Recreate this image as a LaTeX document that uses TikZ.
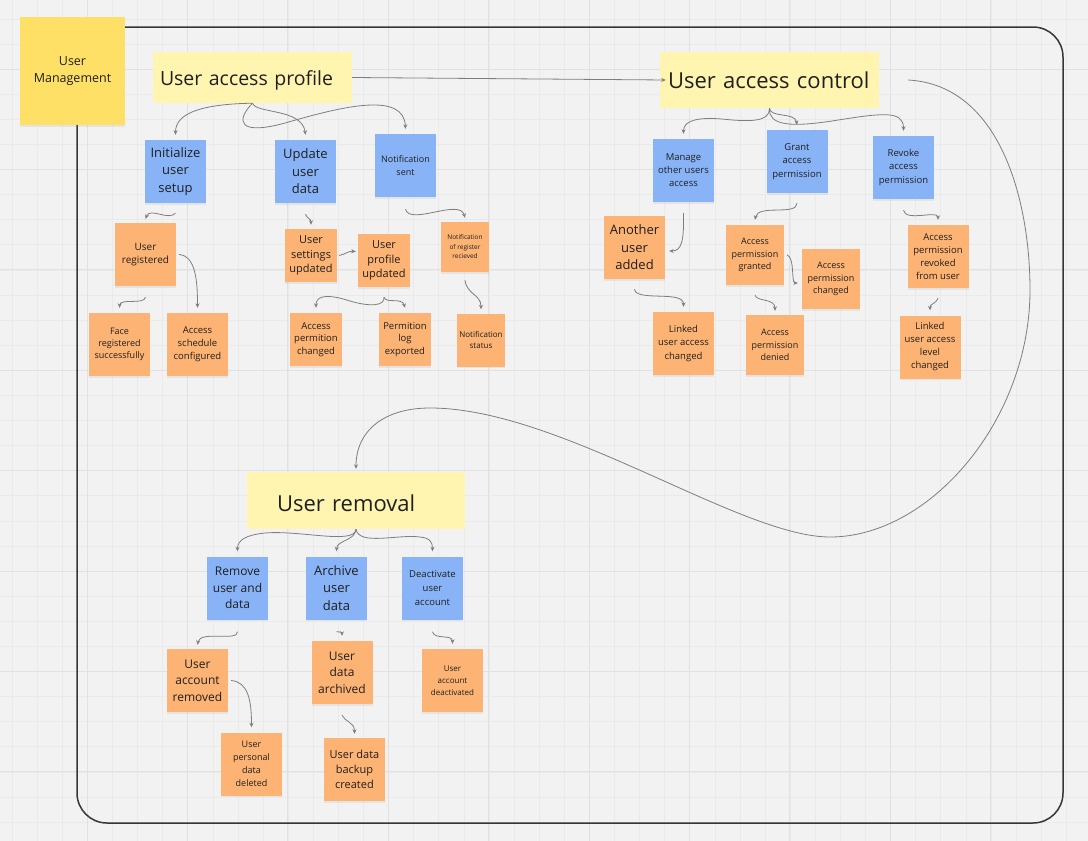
\documentclass[tikz,border=0pt]{standalone}
\usepackage{fontspec}
\setmainfont{Open Sans}
\usepackage{xcolor}
\usetikzlibrary{arrows.meta, shadows}

\definecolor{canvas}{HTML}{F2F2F2}
\definecolor{gridminor}{HTML}{EAEAEA}
\definecolor{gridmajor}{HTML}{E1E1E1}
\definecolor{mgmtyellow}{HTML}{FFE066}
\definecolor{headyellow}{HTML}{FFF5B1}
\definecolor{noteblue}{HTML}{88B4F7}
\definecolor{noteorange}{HTML}{FDB373}
\definecolor{ink}{HTML}{1F1F1F}
\definecolor{linkgrey}{HTML}{7E7E7E}
\definecolor{framegrey}{HTML}{363636}

\begin{document}
\begin{tikzpicture}[x=1pt, y=-1pt,
  sticky/.style={rectangle, inner sep=1pt, align=center, text=ink, minimum width=61pt, minimum height=63pt,
    drop shadow={shadow xshift=0pt, shadow yshift=-1.5pt, opacity=0.12}},
  bluenote/.style={sticky, fill=noteblue},
  orangenote/.style={sticky, fill=noteorange},
  snug/.style={minimum width=52pt, minimum height=53pt},
  header/.style={rectangle, fill=headyellow, align=left, text=ink, inner ysep=0pt},
  fsz/.style 2 args={font=\fontsize{#1}{#2}\selectfont},
  link/.style={draw=linkgrey, line width=0.8pt, -{Stealth[length=4.5pt, width=4pt]}}
]

  \useasboundingbox (0,0) rectangle (1088,841);
  \fill[canvas] (0,0) rectangle (1088,841);
  \foreach \i in {0,...,43} \draw[gridminor, line width=0.6pt] ({12+25.1*\i},0) -- ++(0,841);
  \foreach \j in {0,...,33} \draw[gridminor, line width=0.6pt] (0,{18.8+25.1*\j}) -- ++(1088,0);
  \foreach \i in {0,...,9} \draw[gridmajor, line width=1pt] ({87+100.4*\i},0) -- ++(0,841);
  \foreach \j in {0,...,7} \draw[gridmajor, line width=1pt] (0,{69+100.4*\j}) -- ++(1088,0);

  \draw[framegrey, line width=1.5pt, rounded corners=30pt] (77,27) rectangle (1063,823);

  \node[sticky, fill=mgmtyellow, minimum width=105pt, minimum height=108pt, fsz={12.5}{17.5}] (mgmt) at (72.5,71) {User\\Management};

  % headers
  \node[header, text width=185pt, inner xsep=7pt, minimum height=51pt, fsz={19.5}{24}] (prof) at (252.5,77.5) {\raisebox{-3pt}[\height][\depth]{User access profile}};
  \node[header, text width=203pt, inner xsep=8pt, minimum height=56pt, fsz={22}{26}] (ctrl) at (769.5,80) {User access control};
  \node[header, text width=158pt, inner xsep=30pt, minimum height=57pt, fsz={22}{26}] (rem) at (356,500.5) {\raisebox{-2.5pt}[\height][\depth]{User removal}};

  % user access profile
  \node[bluenote, fsz={13}{17.5}] (init) at (175.5,171.5) {Initialize\\user\\setup};
  \node[bluenote, fsz={13}{17.5}] (upd) at (305.5,171.5) {Update\\user\\data};
  \node[bluenote, fsz={9}{12.3}] (notif) at (405.5,165.5) {Notification\\sent};
  \node[orangenote, fsz={10}{13.7}] (reg) at (145.5,254.5) {User\\registered};
  \node[orangenote, fsz={9}{12.2}] (face) at (119.5,344.5) {Face\\registered\\successfully};
  \node[orangenote, fsz={9.5}{13}] (sched) at (197.5,344.5) {Access\\schedule\\configured};
  \node[orangenote, snug, fsz={11}{14.8}] (sett) at (311,255.5) {User\\settings\\updated};
  \node[orangenote, snug, fsz={11}{14.8}] (prfu) at (384,260.5) {User\\profile\\updated};
  \node[orangenote, minimum width=48pt, minimum height=50pt, fsz={6.5}{9.5}] (nreg) at (465,247) {Notification\\of register\\recieved};
  \node[orangenote, snug, fsz={9.5}{12.5}] (apc) at (316,339.5) {Access\\permition\\changed};
  \node[orangenote, snug, fsz={9.5}{12.5}] (plog) at (405,339.5) {Permition\\log\\exported};
  \node[orangenote, minimum width=48pt, minimum height=53pt, fsz={8}{11}] (nstat) at (481,340) {Notification\\status};

  % user access control
  \node[bluenote, fsz={9.5}{13}] (mng) at (683.5,170.5) {Manage\\other users\\access};
  \node[bluenote, fsz={9.5}{13.3}] (grant) at (797,161.5) {Grant\\access\\permission};
  \node[bluenote, fsz={9.5}{13.3}] (rev) at (903.5,167.5) {Revoke\\access\\permission};
  \node[orangenote, fsz={13}{17.5}] (another) at (634.5,247.5) {Another\\user\\added};
  \node[orangenote, fsz={9.5}{13.3}] (lnk1) at (683.5,343.5) {Linked\\user access\\changed};
  \node[orangenote, minimum width=58pt, minimum height=60pt, fsz={9}{12.5}] (grd) at (755,255) {Access\\permission\\granted};
  \node[orangenote, minimum width=58pt, minimum height=60pt, fsz={9}{12.5}] (chg) at (831,279) {Access\\permission\\changed};
  \node[orangenote, minimum width=58pt, minimum height=60pt, fsz={9}{12.5}] (den) at (775,345) {Access\\permission\\denied};
  \node[orangenote, fsz={9.5}{13}] (rvk) at (938,256.5) {Access\\permission\\revoked\\from user};
  \node[orangenote, fsz={9.5}{13}] (lnk2) at (930,347) {Linked\\user access\\level\\changed};

  % user removal
  \node[bluenote, fsz={12}{16.7}] (rmv) at (237.5,588) {Remove\\user and\\data};
  \node[bluenote, fsz={13}{17.7}] (arch) at (336.5,588) {Archive\\user\\data};
  \node[bluenote, fsz={9.5}{14}] (deac) at (432.5,588) {Deactivate\\user\\account};
  \node[orangenote, fsz={12}{16.7}] (uar) at (197.5,680.5) {User\\account\\removed};
  \node[orangenote, fsz={9}{13}] (pdel) at (251.5,764) {User\\personal\\data\\deleted};
  \node[orangenote, fsz={12}{16.7}] (uda) at (342,672.5) {User\\data\\archived};
  \node[orangenote, fsz={11}{14.8}] (bkp) at (354.5,769.5) {User data\\backup\\created};
  \node[orangenote, fsz={8}{12.2}] (udeac) at (452.5,680.5) {User\\account\\deactivated};

  % connectors
  \draw[link] (prof.east) -- ([xshift=6pt]ctrl.west);
  \draw[link] (prof.south) .. controls (205,104) and (175.5,112) .. ([yshift=5pt]init.north);
  \draw[link] (prof.south) .. controls (256,114) and (302,108) .. ([yshift=5pt]upd.north);
  \draw[link] (prof.south) .. controls (236,120) and (236,138) .. (292,121) .. controls (345,106) and (404,92) .. ([yshift=5pt]notif.north);
  \draw[link] ([yshift=-10pt]init.south) .. controls (168,221) and (150,207) .. ([yshift=4pt]reg.north);
  \draw[link] ([yshift=-11pt]reg.south) .. controls (144,305) and (120,298) .. ([yshift=5pt]face.north);
  \draw[link] ([xshift=3pt]reg.east) .. controls (196,256) and (197.5,282) .. ([yshift=5pt]sched.north);
  \draw[link] ([yshift=-11pt]upd.south) .. controls (307,219) and (311,218) .. ([yshift=4pt]sett.north);
  \draw[link] ([xshift=2pt]sett.east) .. controls (346,254) and (348,251) .. ([xshift=-2pt,yshift=9pt]prfu.west);
  \draw[link] ([yshift=-10pt]prfu.south) .. controls (385,306) and (370,307) .. (350,301) .. controls (322,292) and (316,298) .. ([yshift=5pt]apc.north);
  \draw[link] ([yshift=-10pt]prfu.south) .. controls (386,304) and (402,297) .. ([yshift=5pt]plog.north);
  \draw[link] ([yshift=-12pt]notif.south) .. controls (410,226) and (460,198) .. ([yshift=4pt]nreg.north);
  \draw[link] ([yshift=-8pt]nreg.south) .. controls (467,295) and (481,294) .. ([yshift=4pt]nstat.north);

  \draw[link] (ctrl.south) .. controls (770,122) and (750,122) .. (722,119) .. controls (696,117) and (683.5,121) .. ([yshift=5pt]mng.north);
  \draw[link] (ctrl.south) .. controls (770,118) and (795,112) .. ([yshift=5pt]grant.north);
  \draw[link] (ctrl.south) .. controls (768,126) and (792,127) .. (832,121) .. controls (882,113) and (903.5,110) .. ([yshift=5pt]rev.north);
  \draw[link] ([yshift=-11pt]mng.south) .. controls (684,240) and (682,251) .. ([xshift=4pt,yshift=-3.5pt]another.east);
  \draw[link] ([yshift=-10pt]another.south) .. controls (636,302) and (683.5,290) .. ([yshift=5pt]lnk1.north);
  \draw[link] ([yshift=-10pt]grant.south) .. controls (797,216) and (758,204) .. ([yshift=5pt]grd.north);
  \draw[link] ([xshift=3pt]grd.east) .. controls (795,258) and (791,283) .. ([xshift=-4pt,yshift=-4pt]chg.west);
  \draw[link] ([yshift=-10pt]grd.south) .. controls (757,302) and (775,298) .. ([yshift=4pt]den.north);
  \draw[link] ([yshift=-11pt]rev.south) .. controls (905,222) and (938,210) .. ([yshift=5pt]rvk.north);
  \draw[link] ([yshift=-10pt]rvk.south) .. controls (935,305) and (930,303) .. ([yshift=5pt]lnk2.north);
  \draw[link] ([xshift=29pt]ctrl.east) .. controls (1000,85) and (1030,200) .. (1030,290)
    .. controls (1030,420) and (930,537) .. (830,537)
    .. controls (740,537) and (560,408) .. (430,408)
    .. controls (385,408) and (356,430) .. ([yshift=3pt]rem.north);

  \draw[link] (rem.south) .. controls (355,545) and (300,530) .. (265,533) .. controls (246,535) and (237.5,540) .. ([yshift=5pt]rmv.north);
  \draw[link] (rem.south) .. controls (355,541) and (337,540) .. ([yshift=5pt]arch.north);
  \draw[link] (rem.south) .. controls (359,546) and (398,534) .. (420,537) .. controls (430,538) and (432.5,542) .. ([yshift=5pt]deac.north);
  \draw[link] ([yshift=-12pt]rmv.south) .. controls (238,642) and (200,630) .. ([yshift=4pt]uar.north);
  \draw[link] ([xshift=3pt]uar.east) .. controls (248,682) and (251.5,700) .. ([yshift=5pt]pdel.north);
  \draw[link] ([yshift=-12pt]arch.south) .. controls (340,632) and (342,632) .. ([yshift=5pt]uda.north);
  \draw[link] ([yshift=-11pt]uda.south) .. controls (345,722) and (354.5,722) .. ([yshift=4pt]bkp.north);
  \draw[link] ([yshift=-12pt]deac.south) .. controls (434,640) and (452.5,634) .. ([yshift=5pt]udeac.north);

\end{tikzpicture}
\end{document}
